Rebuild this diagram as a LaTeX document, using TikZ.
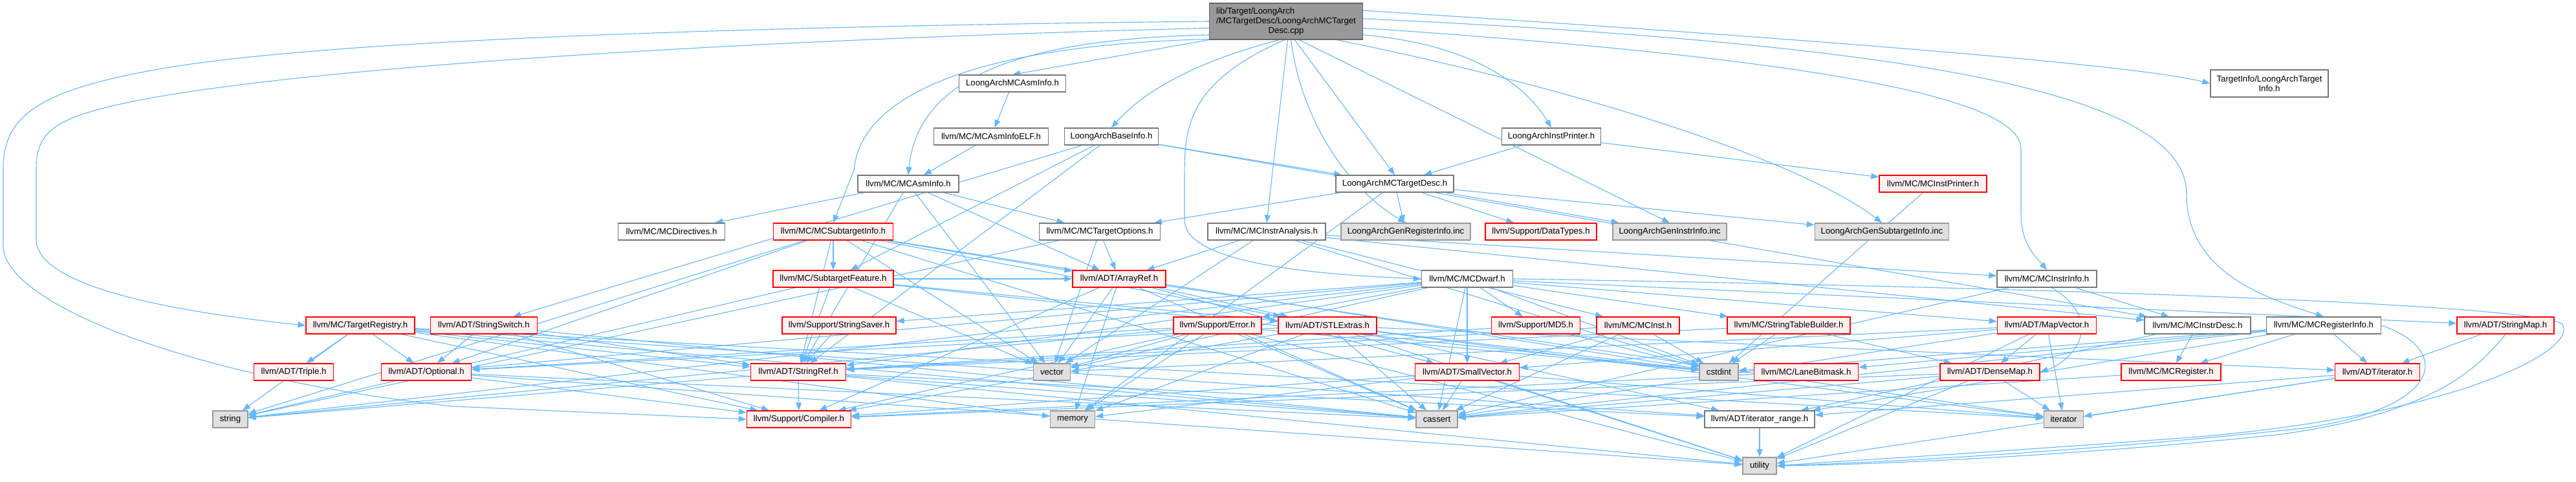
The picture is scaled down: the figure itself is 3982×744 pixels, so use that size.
\documentclass[tikz,border=0pt]{standalone}
\usepackage{fontspec}
\setmainfont{Liberation Sans}
\usetikzlibrary{arrows.meta,backgrounds}
\definecolor{edgec}{HTML}{63B8FF}
\definecolor{redfill}{HTML}{FFF0F0}
\definecolor{grayfill}{HTML}{E0E0E0}
\definecolor{mainfill}{HTML}{999999}
\definecolor{nodeborder}{HTML}{777777}
\definecolor{grayborder}{HTML}{999999}
\definecolor{mainborder}{HTML}{666666}
\tikzset{
  nd/.style={draw=nodeborder, fill=white, line width=1.3pt, minimum height=26pt,
    inner sep=0pt, font=\fontsize{13.2}{15}\selectfont, align=center},
  rd/.style={nd, draw=red, fill=redfill},
  gr/.style={nd, draw=grayborder, fill=grayfill},
  mn/.style={nd, draw=mainborder, fill=mainfill},
  edge/.style={draw=edgec, line width=1.1pt, -{Triangle[length=12pt,width=9pt]}}
}
\begin{document}
\begin{tikzpicture}[x=1pt,y=-1pt]
\useasboundingbox (0,0) rectangle (3982,744);
% row 0
\node[mn, minimum width=237pt, minimum height=56pt] (main) at (1988,33)
  {\begin{tabular}{@{}l@{}}lib/Target/LoongArch\\/MCTargetDesc/LoongArchMCTarget\\\multicolumn{1}{@{}c@{}}{Desc.cpp}\end{tabular}};
% row 1
\node[nd, minimum width=165pt] (asminfo) at (1565,129) {LoongArchMCAsmInfo.h};
\node[nd, minimum width=182pt, minimum height=42pt] (tinfo) at (3508,129) {TargetInfo/LoongArchTarget\\Info.h};
% row 2
\node[nd, minimum width=177pt] (asmelf) at (1532,211) {llvm/MC/MCAsmInfoELF.h};
\node[nd, minimum width=145pt] (baseinfo) at (1718,211) {LoongArchBaseInfo.h};
\node[nd, minimum width=153pt] (instprinter) at (2398,211) {LoongArchInstPrinter.h};
% row 3
\node[nd, minimum width=156pt] (mcasminfo) at (1404,284) {llvm/MC/MCAsmInfo.h};
\node[nd, minimum width=182pt] (tdesc) at (2156,284) {LoongArchMCTargetDesc.h};
\node[rd, minimum width=166pt] (mcinstprinter) at (2988,284) {llvm/MC/MCInstPrinter.h};
% row 4
\node[nd, minimum width=165pt] (directives) at (1038,358) {llvm/MC/MCDirectives.h};
\node[rd, minimum width=185pt] (subinfo) at (1288,358) {llvm/MC/MCSubtargetInfo.h};
\node[nd, minimum width=187pt] (topts) at (1700,358) {llvm/MC/MCTargetOptions.h};
\node[nd, minimum width=182pt] (ianalysis) at (1958,358) {llvm/MC/MCInstrAnalysis.h};
\node[gr, minimum width=200pt] (genreg) at (2173,358) {LoongArchGenRegisterInfo.inc};
\node[rd, minimum width=172pt] (datatypes) at (2382,358) {llvm/Support/DataTypes.h};
\node[gr, minimum width=176pt] (geninstr) at (2581,358) {LoongArchGenInstrInfo.inc};
\node[gr, minimum width=207pt] (gensub) at (2909,358) {LoongArchGenSubtargetInfo.inc};
% row 5
\node[rd, minimum width=186pt] (subfeat) at (1288,431) {llvm/MC/SubtargetFeature.h};
\node[rd, minimum width=144pt] (arrayref) at (1730,431) {llvm/ADT/ArrayRef.h};
\node[nd, minimum width=141pt] (dwarf) at (2268,431) {llvm/MC/MCDwarf.h};
\node[nd, minimum width=154pt] (instrinfo) at (3164,431) {llvm/MC/MCInstrInfo.h};
% row 6
\node[rd, minimum width=168pt] (treg) at (557,503) {llvm/MC/TargetRegistry.h};
\node[rd, minimum width=165pt] (sswitch) at (748,503) {llvm/ADT/StringSwitch.h};
\node[rd, minimum width=176pt] (ssaver) at (1297,503) {llvm/Support/StringSaver.h};
\node[rd, minimum width=136pt] (error) at (1882,503) {llvm/Support/Error.h};
\node[rd, minimum width=152pt] (stl) at (2052,503) {llvm/ADT/STLExtras.h};
\node[rd, minimum width=137pt] (md5) at (2374,503) {llvm/Support/MD5.h};
\node[rd, minimum width=128pt] (mcinst) at (2532,503) {llvm/MC/MCInst.h};
\node[rd, minimum width=190pt] (stb) at (2765,503) {llvm/MC/StringTableBuilder.h};
\node[rd, minimum width=153pt] (mapvec) at (3164,503) {llvm/ADT/MapVector.h};
\node[nd, minimum width=164pt] (idesc) at (3397,503) {llvm/MC/MCInstrDesc.h};
\node[nd, minimum width=177pt] (reginfo) at (3592,503) {llvm/MC/MCRegisterInfo.h};
\node[rd, minimum width=150pt] (smap) at (3873,503) {llvm/ADT/StringMap.h};
% row 7
\node[rd, minimum width=123pt] (triple) at (454,575) {llvm/ADT/Triple.h};
\node[rd, minimum width=139pt] (optional) at (659,575) {llvm/ADT/Optional.h};
\node[rd, minimum width=147pt] (sref) at (1234,575) {llvm/ADT/StringRef.h};
\node[gr, minimum width=57pt] (vector) at (1626,575) {vector};
\node[rd, minimum width=161pt] (svec) at (2268,575) {llvm/ADT/SmallVector.h};
\node[gr, minimum width=60pt] (cstdint) at (2657,575) {cstdint};
\node[rd, minimum width=161pt] (lanebm) at (2792,575) {llvm/MC/LaneBitmask.h};
\node[rd, minimum width=154pt] (densemap) at (3076,575) {llvm/ADT/DenseMap.h};
\node[rd, minimum width=154pt] (mcreg) at (3356,575) {llvm/MC/MCRegister.h};
\node[rd, minimum width=131pt] (iteratorh) at (3675,575) {llvm/ADT/iterator.h};
% row 8
\node[gr, minimum width=54pt] (string) at (356,648) {string};
\node[rd, minimum width=161pt] (compiler) at (1235,648) {llvm/Support/Compiler.h};
\node[gr, minimum width=69pt] (memory) at (1658,648) {memory};
\node[gr, minimum width=64pt] (cassert) at (2221,648) {cassert};
\node[nd, minimum width=170pt] (itrange) at (2720,648) {llvm/ADT/iterator\_range.h};
\node[gr, minimum width=61pt] (iterator) at (3190,648) {iterator};
% row 9
\node[gr, minimum width=52pt] (utility) at (2720,720) {utility};

\begin{scope}[on background layer]
\fill[white] (0,0) rectangle (3982,744);
% curved edges from the main file
\draw[edge] (main.west) .. controls (1200,40) and (500,60) .. (239,108)
  .. controls (60,140) and (5,180) .. (5,260) -- (5,380)
  .. controls (5,470) and (300,585) .. (700,628) -- (compiler.west);
\draw[edge] (main.185) .. controls (1200,60) and (500,100) .. (214,155)
  .. controls (90,180) and (56,200) .. (56,260) -- (56,370)
  .. controls (56,440) and (250,480) .. (treg.west);
\draw[edge] (main.190) .. controls (1600,60) and (1420,110) .. (mcasminfo.north);
\draw[edge] (main.193) .. controls (1500,70) and (1330,150) .. (1320,263) -- (subinfo.north);
\draw[edge] (main.south west) -- (asminfo.north);
\draw[edge] (main.250) .. controls (1830,100) and (1760,150) .. (baseinfo.north);
\draw[edge] (main.265) .. controls (1831,130) and (1831,200) .. (1831,280)
  -- (1831,340) .. controls (1831,410) and (2050,425) .. (dwarf.west);
\draw[edge] (main.275) -- (ianalysis.north);
\draw[edge] (main.285) .. controls (2010,180) and (2080,290) .. (genreg.north);
\draw[edge] (main.295) -- (tdesc.north);
\draw[edge] (main.305) -- (geninstr.north);
\draw[edge] (main.350) .. controls (2300,70) and (2370,150) .. (instprinter.north);
\draw[edge] (main.340) .. controls (2500,150) and (2800,260) .. (gensub.north);
\draw[edge] (main.8) .. controls (2800,60) and (3300,100) .. (tinfo.west);
\draw[edge] (main.2) .. controls (3000,70) and (3380,150) .. (3380,300)
  .. controls (3380,420) and (3500,460) .. (reginfo.north);
\draw[edge] (main.355) .. controls (2800,90) and (3124,150) .. (3124,230)
  -- (3124,330) .. controls (3124,380) and (3150,400) .. (instrinfo.north);
% looping edges on the right
\draw[edge] (dwarf.east) .. controls (3200,445) and (3900,470) .. (3960,500)
  .. controls (3990,540) and (3800,640) .. (3400,675)
  .. controls (3000,705) and (2850,712) .. (utility.east);
\draw[edge] (reginfo.east) .. controls (3790,540) and (3780,630) .. (3560,662)
  .. controls (3200,700) and (2900,715) .. (utility.east);
\draw[edge] (smap.south) .. controls (3830,570) and (3760,640) .. (3520,672)
  .. controls (3200,705) and (2900,718) .. (utility.east);
\draw[edge] (instrinfo.300) .. controls (3260,500) and (3200,560) .. (densemap.east);
% straight edges
\foreach \a/\b in {
  asminfo/asmelf, asmelf/mcasminfo,
  baseinfo/tdesc, baseinfo/sref, baseinfo/sswitch, baseinfo/subfeat, baseinfo/idesc,
  instprinter/tdesc, instprinter/mcinstprinter,
  mcasminfo/directives, mcasminfo/topts, mcasminfo/vector, mcasminfo/arrayref, mcasminfo/sref,
  tdesc/topts, tdesc/genreg, tdesc/datatypes, tdesc/geninstr, tdesc/gensub, tdesc/memory,
  mcinstprinter/cstdint,
  subinfo/subfeat, subinfo/arrayref, subinfo/stl, subinfo/sref, subinfo/cassert,
  subinfo/cstdint, subinfo/string, subinfo/vector, subinfo/optional,
  topts/arrayref, topts/string, topts/vector,
  ianalysis/arrayref, ianalysis/mcinst, ianalysis/idesc, ianalysis/instrinfo,
  ianalysis/cstdint, ianalysis/vector,
  subfeat/arrayref, subfeat/stl, subfeat/sref, subfeat/string, subfeat/vector, subfeat/cstdint,
  arrayref/svec, arrayref/stl, arrayref/compiler, arrayref/cassert, arrayref/vector,
  arrayref/memory, arrayref/iterator,
  dwarf/mapvec, dwarf/svec, dwarf/smap, dwarf/sref, dwarf/stb, dwarf/error, dwarf/md5,
  dwarf/cassert, dwarf/cstdint, dwarf/string, dwarf/vector, dwarf/optional, dwarf/ssaver,
  instrinfo/idesc, instrinfo/cassert,
  treg/triple, treg/optional, treg/string, treg/sref, treg/itrange, treg/compiler,
  treg/cassert, treg/memory, treg/iterator,
  sswitch/optional, sswitch/sref, sswitch/compiler, sswitch/cassert,
  ssaver/sref,
  error/compiler, error/memory, error/vector, error/cassert, error/cstdint, error/string,
  error/utility, error/optional,
  stl/iteratorh, stl/itrange, stl/cassert, stl/memory, stl/utility, stl/iterator,
  stl/cstdint, stl/compiler, stl/optional,
  md5/sref, md5/cstdint,
  mcinst/svec, mcinst/sref, mcinst/cassert, mcinst/cstdint,
  stb/densemap, stb/sref, stb/cstdint,
  mapvec/densemap, mapvec/svec, mapvec/cassert, mapvec/iterator, mapvec/utility, mapvec/vector,
  idesc/mcreg, idesc/itrange,
  reginfo/iteratorh, reginfo/itrange, reginfo/mcreg, reginfo/lanebm, reginfo/cassert,
  reginfo/cstdint,
  smap/iteratorh,
  optional/compiler, optional/cassert, optional/utility,
  sref/compiler, sref/string, sref/cassert, sref/itrange, sref/utility,
  svec/cassert, svec/compiler, svec/iterator, svec/memory, svec/utility,
  densemap/iterator, densemap/utility, densemap/cassert, densemap/compiler,
  mcreg/cassert,
  iteratorh/iterator, iteratorh/itrange, iteratorh/utility,
  itrange/utility,
  lanebm/compiler}
  \draw[edge] (\a) -- (\b);
\end{scope}
\end{tikzpicture}
\end{document}
